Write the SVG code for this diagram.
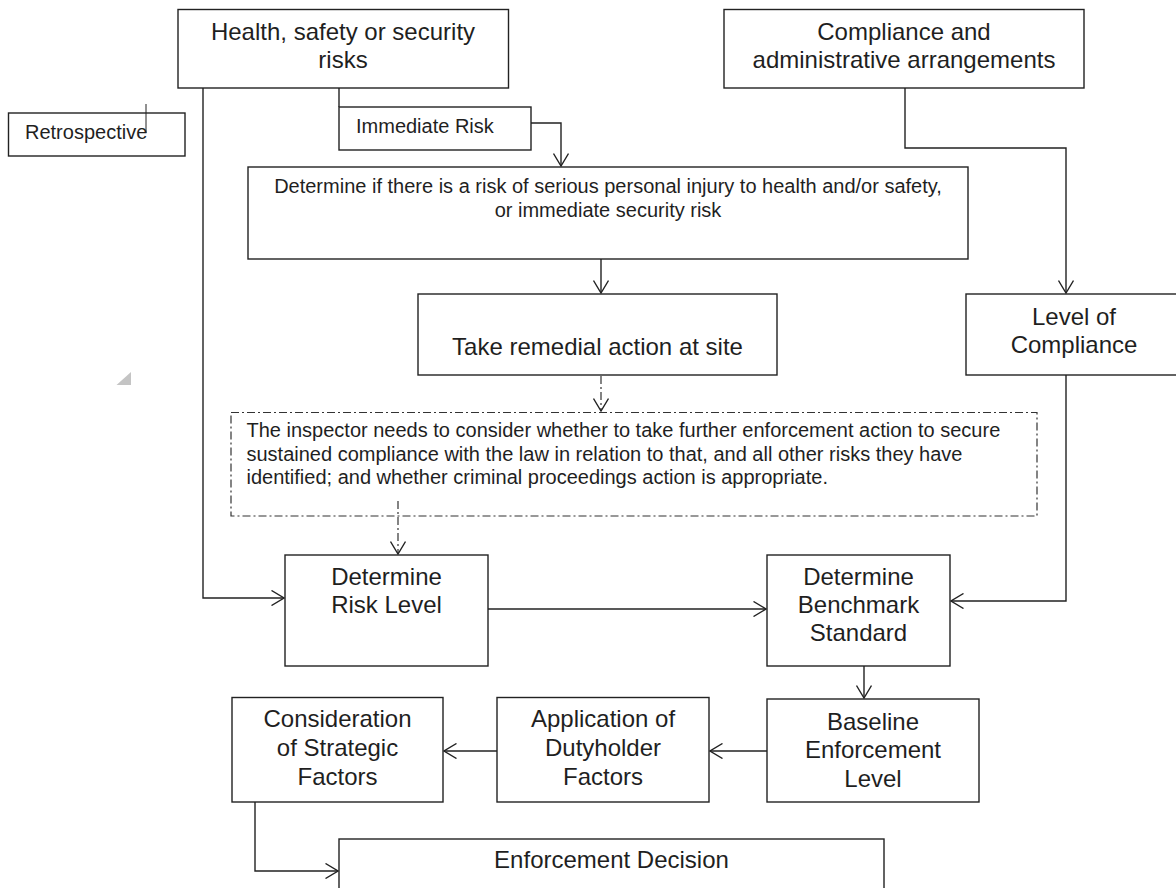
<svg xmlns="http://www.w3.org/2000/svg" width="1176" height="888" viewBox="0 0 1176 888">
<style>
.box{fill:#fff;stroke:#222;stroke-width:1.4}
.dbox{fill:none;stroke:#333;stroke-width:1.2;stroke-dasharray:8 3 2 3}
.ln{fill:none;stroke:#222;stroke-width:1.4}
.dl{fill:none;stroke:#333;stroke-width:1.2;stroke-dasharray:8 3 2 3}
text{font-family:"Liberation Sans",Arial,sans-serif;fill:#1f1f1f}
.t24{font-size:24px;text-anchor:middle}
.t20{font-size:20px}
.c{text-anchor:middle}
</style>
<defs>
<marker id="arr" markerUnits="userSpaceOnUse" viewBox="0 0 14 16" refX="13" refY="8" markerWidth="14" markerHeight="16" orient="auto">
<path d="M0.5,0.5 L13,8 L0.5,15.5" fill="none" stroke="#222" stroke-width="1.4"/>
</marker>
</defs>
<rect width="1176" height="888" fill="#fff"/>
<g id="connectors">
<path class="ln" d="M339,88 V107"/>
<path class="ln" d="M531,123 H561 V166" marker-end="url(#arr)"/>
<path class="ln" d="M601,259 V293" marker-end="url(#arr)"/>
<path class="dl" d="M601,376 V411" marker-end="url(#arr)"/>
<path class="dl" d="M398,501 V554" marker-end="url(#arr)"/>
<path class="ln" d="M203,88 V598 H284" marker-end="url(#arr)"/>
<path class="ln" d="M488,609 H766" marker-end="url(#arr)"/>
<path class="ln" d="M905,88 V148 H1066 V293" marker-end="url(#arr)"/>
<path class="ln" d="M1066,375 V601 H951" marker-end="url(#arr)"/>
<path class="ln" d="M864,666 V698" marker-end="url(#arr)"/>
<path class="ln" d="M767,751 H710" marker-end="url(#arr)"/>
<path class="ln" d="M497,751 H444" marker-end="url(#arr)"/>
<path class="ln" d="M255,802 V871 H338" marker-end="url(#arr)"/>
</g>
<g id="health">
<rect class="box" x="178" y="9.5" width="330.5" height="78.5"/>
<text class="t24" x="343" y="40">Health, safety or security</text>
<text class="t24" x="343" y="68">risks</text>
</g>
<g id="compliance">
<rect class="box" x="724" y="9.5" width="360" height="78.5"/>
<text class="t24" x="904" y="40">Compliance and</text>
<text class="t24" x="904" y="68">administrative arrangements</text>
</g>
<g id="retrospective">
<rect class="box" x="8.5" y="113" width="176.5" height="43"/>
<text class="t20" x="25" y="139">Retrospective</text>
<line x1="146" y1="104" x2="146" y2="133" stroke="#222" stroke-width="1"/>
</g>
<g id="immediate">
<rect class="box" x="339" y="107" width="192" height="43"/>
<text class="t20" x="356" y="133">Immediate Risk</text>
</g>
<g id="determine-risk">
<rect class="box" x="248" y="167" width="720" height="92"/>
<text class="t20 c" x="608" y="193">Determine if there is a risk of serious personal injury to health and/or safety,</text>
<text class="t20 c" x="608" y="217">or immediate security risk</text>
</g>
<g id="remedial">
<rect class="box" x="418" y="294" width="359" height="81"/>
<text class="t24" x="597.5" y="355">Take remedial action at site</text>
</g>
<g id="level-compliance">
<rect class="box" x="966" y="294" width="216" height="81"/>
<text class="t24" x="1074" y="325">Level of</text>
<text class="t24" x="1074" y="353">Compliance</text>
</g>
<polygon points="116.5,385 131,372 131,385" fill="#c4c4c4"/>
<g id="inspector">
<rect class="dbox" x="231" y="412.5" width="806" height="103.5"/>
<text class="t20" x="246.5" y="436.5">The inspector needs to consider whether to take further enforcement action to secure</text>
<text class="t20" x="246.5" y="460.5">sustained compliance with the law in relation to that, and all other risks they have</text>
<text class="t20" x="246.5" y="484">identified; and whether criminal proceedings action is appropriate.</text>
</g>
<g id="risk-level">
<rect class="box" x="285" y="555" width="203" height="111"/>
<text class="t24" x="386.5" y="585">Determine</text>
<text class="t24" x="386.5" y="613">Risk Level</text>
</g>
<g id="benchmark">
<rect class="box" x="767" y="555" width="183" height="111"/>
<text class="t24" x="858.5" y="585">Determine</text>
<text class="t24" x="858.5" y="613">Benchmark</text>
<text class="t24" x="858.5" y="641">Standard</text>
</g>
<g id="baseline">
<rect class="box" x="767" y="699" width="212" height="103"/>
<text class="t24" x="873" y="730">Baseline</text>
<text class="t24" x="873" y="758">Enforcement</text>
<text class="t24" x="873" y="787">Level</text>
</g>
<g id="dutyholder">
<rect class="box" x="497" y="697.5" width="212" height="104.5"/>
<text class="t24" x="603" y="727">Application of</text>
<text class="t24" x="603" y="756">Dutyholder</text>
<text class="t24" x="603" y="785">Factors</text>
</g>
<g id="strategic">
<rect class="box" x="232" y="697.5" width="211" height="104.5"/>
<text class="t24" x="337.5" y="727">Consideration</text>
<text class="t24" x="337.5" y="756">of Strategic</text>
<text class="t24" x="337.5" y="785">Factors</text>
</g>
<g id="decision">
<rect class="box" x="339" y="839" width="545" height="60"/>
<text class="t24" x="611.5" y="868">Enforcement Decision</text>
</g>
</svg>
